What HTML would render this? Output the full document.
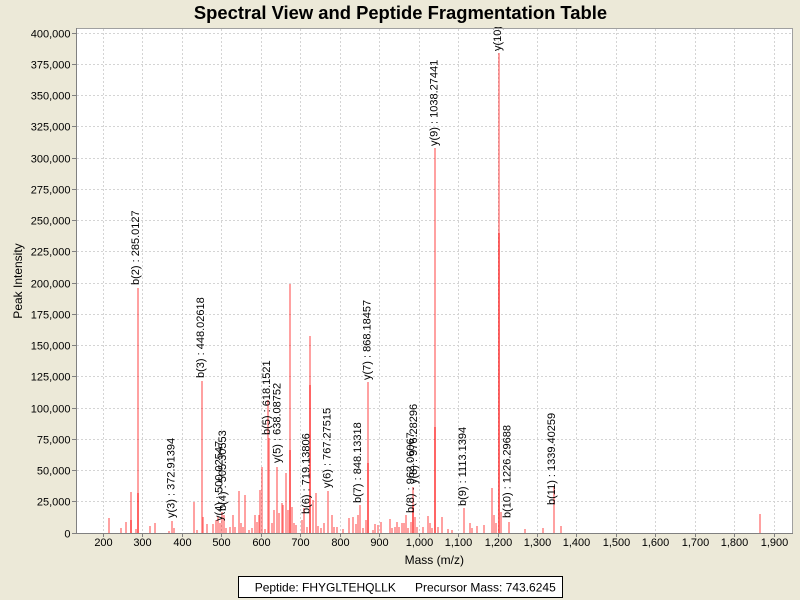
<!DOCTYPE html>
<html><head><meta charset="utf-8"><style>
html,body{margin:0;padding:0;background:#ECE9D8;}
svg{display:block;font-family:"Liberation Sans",Arial,sans-serif;}
.bars rect{fill:#ff0000;fill-opacity:0.37;}
.grid line{stroke:#d4d4d4;stroke-width:1;stroke-dasharray:2,2;}
.yt{font-size:11px;text-anchor:end;fill:#000;}
.xt{font-size:11px;text-anchor:middle;fill:#000;}
.lb{font-size:11px;fill:#000;}
</style></head><body>
<svg width="800" height="600" viewBox="0 0 800 600" xmlns="http://www.w3.org/2000/svg">
<defs><clipPath id="pc"><rect x="77" y="27" width="715" height="506"/></clipPath></defs>
<rect x="0" y="0" width="800" height="600" fill="#ECE9D8"/>
<text x="400.5" y="19" font-size="18.4" font-weight="bold" text-anchor="middle" fill="#000">Spectral View and Peptide Fragmentation Table</text>
<rect x="76.5" y="28.5" width="716" height="505" fill="#fff"/>
<g class="grid">
<line x1="103.5" y1="29" x2="103.5" y2="533"/><line x1="142.5" y1="29" x2="142.5" y2="533"/><line x1="182.5" y1="29" x2="182.5" y2="533"/><line x1="221.5" y1="29" x2="221.5" y2="533"/><line x1="261.5" y1="29" x2="261.5" y2="533"/><line x1="300.5" y1="29" x2="300.5" y2="533"/><line x1="340.5" y1="29" x2="340.5" y2="533"/><line x1="379.5" y1="29" x2="379.5" y2="533"/><line x1="419.5" y1="29" x2="419.5" y2="533"/><line x1="458.5" y1="29" x2="458.5" y2="533"/><line x1="498.5" y1="29" x2="498.5" y2="533"/><line x1="537.5" y1="29" x2="537.5" y2="533"/><line x1="576.5" y1="29" x2="576.5" y2="533"/><line x1="616.5" y1="29" x2="616.5" y2="533"/><line x1="655.5" y1="29" x2="655.5" y2="533"/><line x1="695.5" y1="29" x2="695.5" y2="533"/><line x1="734.5" y1="29" x2="734.5" y2="533"/><line x1="774.5" y1="29" x2="774.5" y2="533"/>
<line x1="77" y1="501.5" x2="792" y2="501.5"/><line x1="77" y1="470.5" x2="792" y2="470.5"/><line x1="77" y1="439.5" x2="792" y2="439.5"/><line x1="77" y1="408.5" x2="792" y2="408.5"/><line x1="77" y1="376.5" x2="792" y2="376.5"/><line x1="77" y1="345.5" x2="792" y2="345.5"/><line x1="77" y1="314.5" x2="792" y2="314.5"/><line x1="77" y1="283.5" x2="792" y2="283.5"/><line x1="77" y1="251.5" x2="792" y2="251.5"/><line x1="77" y1="220.5" x2="792" y2="220.5"/><line x1="77" y1="189.5" x2="792" y2="189.5"/><line x1="77" y1="158.5" x2="792" y2="158.5"/><line x1="77" y1="126.5" x2="792" y2="126.5"/><line x1="77" y1="95.5" x2="792" y2="95.5"/><line x1="77" y1="64.5" x2="792" y2="64.5"/><line x1="77" y1="33.5" x2="792" y2="33.5"/>
</g>
<g class="bars" shape-rendering="crispEdges">
<rect x="108" y="518" width="2" height="15"/><rect x="120" y="528" width="2" height="5"/><rect x="125" y="522" width="2" height="11"/><rect x="130" y="492" width="2" height="41"/><rect x="130" y="520" width="2" height="13"/><rect x="135" y="529" width="2" height="4"/><rect x="137" y="288" width="2" height="245"/><rect x="137" y="493" width="2" height="40"/><rect x="149" y="526" width="2" height="7"/><rect x="154" y="523" width="2" height="10"/><rect x="168" y="531" width="2" height="2"/><rect x="171" y="521" width="2" height="12"/><rect x="173" y="528" width="2" height="5"/><rect x="193" y="502" width="2" height="31"/><rect x="196" y="530" width="2" height="3"/>
<rect x="201" y="381" width="2" height="152"/><rect x="202" y="517" width="2" height="16"/><rect x="206" y="524" width="2" height="9"/><rect x="212" y="524" width="2" height="9"/><rect x="215" y="520" width="2" height="13"/><rect x="217" y="517" width="2" height="16"/><rect x="219" y="523" width="2" height="10"/><rect x="221" y="512" width="2" height="21"/><rect x="223" y="515" width="2" height="18"/><rect x="225" y="528" width="2" height="5"/><rect x="229" y="527" width="2" height="6"/><rect x="232" y="515" width="2" height="18"/><rect x="234" y="527" width="2" height="6"/><rect x="238" y="491" width="2" height="42"/><rect x="240" y="523" width="2" height="10"/><rect x="242" y="527" width="2" height="6"/><rect x="244" y="495" width="2" height="38"/><rect x="248" y="530" width="2" height="3"/><rect x="251" y="528" width="2" height="5"/><rect x="254" y="515" width="2" height="18"/><rect x="256" y="522" width="2" height="11"/><rect x="258" y="515" width="2" height="18"/><rect x="259" y="490" width="2" height="43"/><rect x="261" y="467" width="2" height="66"/><rect x="264" y="529" width="2" height="4"/><rect x="267" y="400" width="2" height="133"/><rect x="268" y="438" width="2" height="95"/><rect x="271" y="523" width="2" height="10"/><rect x="273" y="510" width="2" height="23"/><rect x="276" y="467" width="2" height="66"/><rect x="278" y="513" width="2" height="20"/><rect x="281" y="503" width="2" height="30"/><rect x="282" y="505" width="2" height="28"/><rect x="285" y="473" width="2" height="60"/><rect x="287" y="510" width="2" height="23"/>
<rect x="289" y="284" width="2" height="249"/><rect x="289" y="450" width="2" height="83"/><rect x="291" y="507" width="2" height="26"/><rect x="293" y="523" width="2" height="10"/><rect x="295" y="525" width="2" height="8"/><rect x="301" y="520" width="2" height="13"/><rect x="303" y="508" width="2" height="25"/><rect x="306" y="527" width="2" height="6"/><rect x="309" y="336" width="2" height="197"/><rect x="309" y="385" width="2" height="148"/><rect x="312" y="500" width="2" height="33"/><rect x="315" y="493" width="2" height="40"/><rect x="317" y="526" width="2" height="7"/><rect x="320" y="528" width="2" height="5"/><rect x="323" y="523" width="2" height="10"/><rect x="327" y="491" width="2" height="42"/><rect x="331" y="515" width="2" height="18"/><rect x="333" y="527" width="2" height="6"/><rect x="336" y="527" width="2" height="6"/><rect x="342" y="529" width="2" height="4"/><rect x="348" y="518" width="2" height="15"/><rect x="352" y="517" width="2" height="16"/><rect x="355" y="524" width="2" height="9"/><rect x="357" y="515" width="2" height="18"/><rect x="359" y="505" width="2" height="28"/><rect x="362" y="528" width="2" height="5"/><rect x="365" y="520" width="2" height="13"/><rect x="367" y="382" width="2" height="151"/><rect x="367" y="463" width="2" height="70"/>
<rect x="372" y="530" width="2" height="3"/><rect x="374" y="524" width="2" height="9"/><rect x="377" y="525" width="2" height="8"/><rect x="380" y="522" width="2" height="11"/><rect x="389" y="519" width="2" height="14"/><rect x="391" y="528" width="2" height="5"/><rect x="394" y="527" width="2" height="6"/><rect x="396" y="522" width="2" height="11"/><rect x="398" y="527" width="2" height="6"/><rect x="401" y="523" width="2" height="10"/><rect x="403" y="523" width="2" height="10"/><rect x="405" y="515" width="2" height="18"/><rect x="407" y="528" width="2" height="5"/><rect x="410" y="522" width="2" height="11"/><rect x="412" y="487" width="2" height="46"/><rect x="412" y="505" width="2" height="28"/><rect x="414" y="517" width="2" height="16"/><rect x="416" y="527" width="2" height="6"/><rect x="422" y="527" width="2" height="6"/><rect x="427" y="516" width="2" height="17"/><rect x="429" y="523" width="2" height="10"/><rect x="431" y="528" width="2" height="5"/>
<rect x="434" y="148" width="2" height="385"/><rect x="434" y="427" width="2" height="106"/><rect x="437" y="527" width="2" height="6"/><rect x="441" y="517" width="2" height="16"/><rect x="447" y="529" width="2" height="4"/><rect x="451" y="530" width="2" height="3"/><rect x="463" y="508" width="2" height="25"/><rect x="469" y="523" width="2" height="10"/><rect x="471" y="528" width="2" height="5"/><rect x="476" y="526" width="2" height="7"/><rect x="483" y="525" width="2" height="8"/><rect x="491" y="488" width="2" height="45"/><rect x="493" y="515" width="2" height="18"/><rect x="495" y="523" width="2" height="10"/><rect x="498" y="53" width="2" height="480"/><rect x="498" y="233" width="2" height="300"/><rect x="500" y="512" width="2" height="21"/><rect x="508" y="522" width="2" height="11"/><rect x="524" y="529" width="2" height="4"/><rect x="542" y="528" width="2" height="5"/><rect x="553" y="487" width="2" height="46"/><rect x="560" y="526" width="2" height="7"/><rect x="759" y="514" width="2" height="19"/>
</g>
<g clip-path="url(#pc)" class="lb">
<text transform="translate(139,285) rotate(-90)">b(2) : 285.0127</text>
<text transform="translate(204,378) rotate(-90)">b(3) : 448.02618</text>
<text transform="translate(174.5,518) rotate(-90)">y(3) : 372.91394</text>
<text transform="translate(222.5,521) rotate(-90)">y(4) : 500.02547</text>
<text transform="translate(226,511) rotate(-90)">b(4) : 505.30553</text>
<text transform="translate(270,435) rotate(-90)">b(5) : 618.1521</text>
<text transform="translate(280.7,463) rotate(-90)">y(5) : 638.08752</text>
<text transform="translate(309.5,514) rotate(-90)">b(6) : 719.13806</text>
<text transform="translate(330.5,488) rotate(-90)">y(6) : 767.27515</text>
<text transform="translate(361,503) rotate(-90)">b(7) : 848.13318</text>
<text transform="translate(370.3,380) rotate(-90)">y(7) : 868.18457</text>
<text transform="translate(414,513) rotate(-90)">b(8) : 962.06067</text>
<text transform="translate(417,484) rotate(-90)">y(8) : 976.28296</text>
<text transform="translate(437.3,146) rotate(-90)">y(9) : 1038.27441</text>
<text transform="translate(501,51) rotate(-90)">y(10) : 1199.41321</text>
<text transform="translate(466,506) rotate(-90)">b(9) : 1113.1394</text>
<text transform="translate(510.3,518) rotate(-90)">b(10) : 1226.29688</text>
<text transform="translate(555,505) rotate(-90)">b(11) : 1339.40259</text>
</g>
<rect x="76.5" y="28.5" width="716" height="505" fill="none" stroke="#a0a0a0" stroke-width="1"/>
<line x1="76.5" y1="28" x2="76.5" y2="534" stroke="#808080"/>
<line x1="76" y1="533.5" x2="793" y2="533.5" stroke="#808080"/>
<g stroke="#808080">
<line x1="72" y1="533.5" x2="76" y2="533.5"/><line x1="72" y1="501.5" x2="76" y2="501.5"/><line x1="72" y1="470.5" x2="76" y2="470.5"/><line x1="72" y1="439.5" x2="76" y2="439.5"/><line x1="72" y1="408.5" x2="76" y2="408.5"/><line x1="72" y1="376.5" x2="76" y2="376.5"/><line x1="72" y1="345.5" x2="76" y2="345.5"/><line x1="72" y1="314.5" x2="76" y2="314.5"/><line x1="72" y1="283.5" x2="76" y2="283.5"/><line x1="72" y1="251.5" x2="76" y2="251.5"/><line x1="72" y1="220.5" x2="76" y2="220.5"/><line x1="72" y1="189.5" x2="76" y2="189.5"/><line x1="72" y1="158.5" x2="76" y2="158.5"/><line x1="72" y1="126.5" x2="76" y2="126.5"/><line x1="72" y1="95.5" x2="76" y2="95.5"/><line x1="72" y1="64.5" x2="76" y2="64.5"/><line x1="72" y1="33.5" x2="76" y2="33.5"/>
<line x1="103.5" y1="534" x2="103.5" y2="537"/><line x1="142.5" y1="534" x2="142.5" y2="537"/><line x1="182.5" y1="534" x2="182.5" y2="537"/><line x1="221.5" y1="534" x2="221.5" y2="537"/><line x1="261.5" y1="534" x2="261.5" y2="537"/><line x1="300.5" y1="534" x2="300.5" y2="537"/><line x1="340.5" y1="534" x2="340.5" y2="537"/><line x1="379.5" y1="534" x2="379.5" y2="537"/><line x1="419.5" y1="534" x2="419.5" y2="537"/><line x1="458.5" y1="534" x2="458.5" y2="537"/><line x1="498.5" y1="534" x2="498.5" y2="537"/><line x1="537.5" y1="534" x2="537.5" y2="537"/><line x1="576.5" y1="534" x2="576.5" y2="537"/><line x1="616.5" y1="534" x2="616.5" y2="537"/><line x1="655.5" y1="534" x2="655.5" y2="537"/><line x1="695.5" y1="534" x2="695.5" y2="537"/><line x1="734.5" y1="534" x2="734.5" y2="537"/><line x1="774.5" y1="534" x2="774.5" y2="537"/>
</g>
<g class="yt">
<text x="70.5" y="537.5">0</text><text x="70.5" y="505.5">25,000</text><text x="70.5" y="474.5">50,000</text><text x="70.5" y="443.5">75,000</text><text x="70.5" y="412.5">100,000</text><text x="70.5" y="380.5">125,000</text><text x="70.5" y="349.5">150,000</text><text x="70.5" y="318.5">175,000</text><text x="70.5" y="287.5">200,000</text><text x="70.5" y="255.5">225,000</text><text x="70.5" y="224.5">250,000</text><text x="70.5" y="193.5">275,000</text><text x="70.5" y="162.5">300,000</text><text x="70.5" y="130.5">325,000</text><text x="70.5" y="99.5">350,000</text><text x="70.5" y="68.5">375,000</text><text x="70.5" y="37.5">400,000</text>
</g>
<g class="xt">
<text x="103.5" y="546">200</text><text x="142.5" y="546">300</text><text x="182.5" y="546">400</text><text x="221.5" y="546">500</text><text x="261.5" y="546">600</text><text x="300.5" y="546">700</text><text x="340.5" y="546">800</text><text x="379.5" y="546">900</text><text x="419.5" y="546">1,000</text><text x="458.5" y="546">1,100</text><text x="498.5" y="546">1,200</text><text x="537.5" y="546">1,300</text><text x="576.5" y="546">1,400</text><text x="616.5" y="546">1,500</text><text x="655.5" y="546">1,600</text><text x="695.5" y="546">1,700</text><text x="734.5" y="546">1,800</text><text x="774.5" y="546">1,900</text>
</g>
<text x="434.3" y="564" font-size="12" text-anchor="middle" fill="#000">Mass (m/z)</text>
<text transform="translate(22,281) rotate(-90)" font-size="12" text-anchor="middle" fill="#000">Peak Intensity</text>
<rect x="238.5" y="576.5" width="324" height="21" fill="#fff" stroke="#000" stroke-width="1"/>
<text x="254.7" y="591.5" font-size="12" fill="#000">Peptide: FHYGLTEHQLLK</text>
<text x="415" y="591.5" font-size="12" fill="#000">Precursor Mass: 743.6245</text>
</svg>
</body></html>
